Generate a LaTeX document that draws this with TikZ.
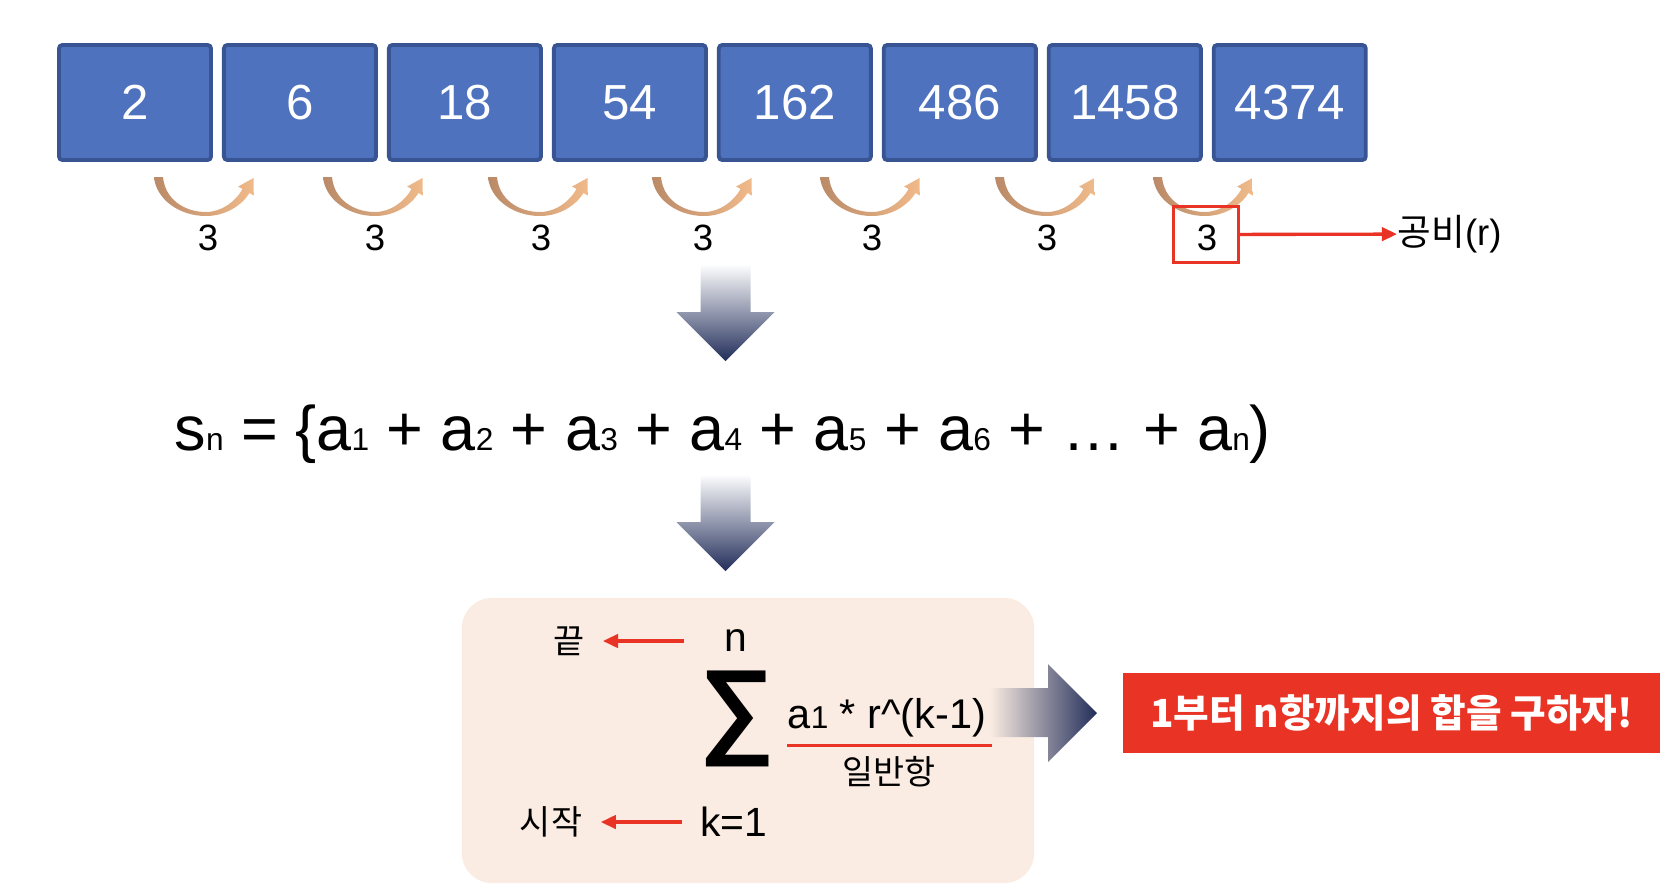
\documentclass[tikz,border=0pt]{standalone}
\usepackage{fontspec}
\setmainfont{Liberation Sans}
\newfontfamily\kr{Noto Sans CJK KR}
\usetikzlibrary{arrows.meta, positioning, calc}
\definecolor{boxblue}{RGB}{79,114,190}
\definecolor{boxedge}{RGB}{56,84,146}
\definecolor{arcdark}{RGB}{186,138,104}
\definecolor{arclight}{RGB}{240,186,138}
\definecolor{myred}{RGB}{233,51,37}
\definecolor{mybeige}{RGB}{250,236,226}
\definecolor{mynavy}{RGB}{34,46,90}
\newcommand\idx[1]{{\fontsize{9}{10}\selectfont #1}}
\tikzset{
  termbox/.style={rectangle, draw=boxedge, fill=boxblue, line width=1.1pt,
    minimum width=1.52cm, minimum height=1.15cm, rounded corners=1pt,
    text=white, font=\fontsize{14}{16}\selectfont, inner sep=0pt},
  ratiotxt/.style={font=\fontsize{10.4}{12}\selectfont, inner sep=0pt},
  sumtxt/.style={font=\fontsize{11.6}{13}\selectfont, inner sep=0pt},
  kortxt/.style={font=\kr\fontsize{9.6}{11}\selectfont, inner sep=0pt},
  redarrow/.style={-{Triangle[length=4.3pt,width=3.8pt]}, line width=0.95pt, color=myred},
  redline/.style={line width=1pt, color=myred},
  ratioarc/.pic={
    \shade[left color=arcdark, right color=arclight]
      (0,0) .. controls (2,22) and (25,39) .. (52,39)
      .. controls (72,39) and (88,28) .. (95.5,16)
      -- (99.8,18.5) -- (99.5,1) -- (84.2,9.5) -- (88.5,12)
      .. controls (82,24) and (68,35) .. (52,35)
      .. controls (30,35) and (11,22) .. (9,0) -- cycle;
  },
  downarrow/.pic={
    \shade[top color=white, bottom color=mynavy]
      (-25,0) -- (25,0) -- (25,48) -- (49,48) -- (0,97)
      -- (-49,48) -- (-25,48) -- cycle;
  }
}

\begin{document}
\begin{tikzpicture}[x=0.01cm, y=-0.01cm]
  \useasboundingbox (0,0) rectangle (1670,890);

  % the sequence
  \node[termbox] (t1) at (135,102.5) {2};
  \foreach \v [count=\i from 2] in {6,18,54,162,486,1458,4374}{
    \pgfmathtruncatemacro{\j}{\i-1}
    \node[termbox, right=0.09cm of t\j] (t\i) {\v};
  }

  % common ratio between neighbours
  \foreach \s/\l [count=\i] in {154/208,323/375,488/541,652/703,820/872,995/1047,1153/1207}{
    \pic at (\s,177) {ratioarc};
    \node[ratiotxt] (r\i) at (\l,238) {3};
  }
  \node[draw=myred, line width=0.9pt, minimum width=0.65cm, minimum height=0.56cm] (rbox) at (1206,234.5) {};
  \node[ratiotxt, anchor=west] (gongbi) at (1397,234) {{\kr 공비}(r)};
  \draw[redarrow] (rbox) -- (gongbi);

  \pic at (725.5,264) {downarrow};

  % the sum
  \node[anchor=base west, inner sep=0pt, font=\fontsize{17.9}{20}\selectfont] (sn) at (174,450)
    {s\idx{n} = \{a\idx{1} + a\idx{2} + a\idx{3} + a\idx{4} + a\idx{5} + a\idx{6} + … + a\idx{n})};

  \pic at (725.5,474) {downarrow};

  % sigma notation
  \node[fill=mybeige, rounded corners=0.3cm, minimum width=5.72cm, minimum height=2.85cm, inner sep=0pt] (sumbox) at (748,740.5) {};
  \node[inner sep=0pt, font=\bfseries\fontsize{30}{32}\selectfont] (sig) at (737.5,719) {∑};
  \node[sumtxt] (n) at (736,641) {n};
  \node[sumtxt] (k1) at (734,822) {k=1};
  \node[kortxt, left=1.39cm of n] (end) {끝};
  \node[kortxt, left=1.17cm of k1] (start) {시작};
  \draw[redarrow, shorten <=0.4cm, shorten >=0.18cm] (n) -- (end);
  \draw[redarrow, shorten <=0.18cm, shorten >=0.18cm] (k1) -- (start);
  \node[sumtxt, anchor=base west, font=\fontsize{11.8}{13}\selectfont] (gen) at (787,728) {a\idx{1} * r\^{}(k-1)};
  \draw[redline] ([yshift=-0.08cm]gen.south west) -- ([yshift=-0.08cm, xshift=0.05cm]gen.south east);
  \node[kortxt] (ilban) at (889,772) {일반항};

  % to the goal
  \shade[left color=mybeige, right color=mynavy]
    (990,688) -- (1048,688) -- (1048,664) -- (1097,713)
    -- (1048,762) -- (1048,737) -- (990,737) -- cycle;
  \node[fill=myred, minimum width=5.37cm, minimum height=0.79cm, inner sep=0pt,
    text=white, font=\kr\bfseries\fontsize{11}{13}\selectfont] (goal) at (1391.5,713)
    {1부터 n항까지의 합을 구하자!};
\end{tikzpicture}
\end{document}
